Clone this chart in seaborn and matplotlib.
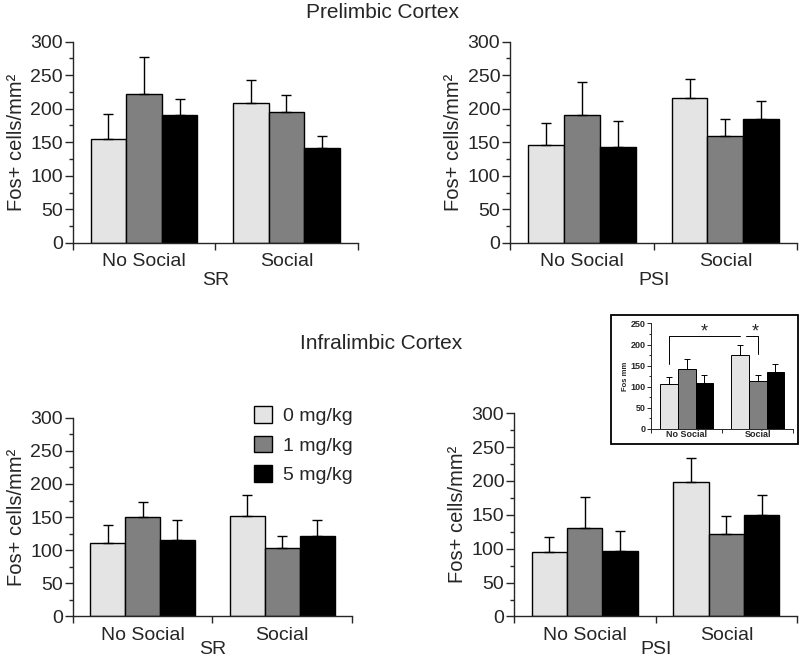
import numpy as np
import pandas as pd
import matplotlib
matplotlib.use("Agg")
import matplotlib.pyplot as plt
from matplotlib.patches import Patch, Rectangle
from matplotlib.ticker import MultipleLocator
import seaborn as sns

# data (means and upper SEM tips)
conditions = ["No Social", "Social"]
doses = ["0 mg/kg", "1 mg/kg", "5 mg/kg"]
colors = ["#e4e4e4", "#808080", "#000000"]

pl_sr_mean = [[155, 208], [222, 195], [191, 142]]
pl_sr_top = [[192, 243], [277, 220], [214, 159]]
pl_psi_mean = [[146, 216], [191, 159], [143, 184]]
pl_psi_top = [[179, 244], [240, 185], [181, 211]]
il_sr_mean = [[111, 152], [150, 103], [116, 122]]
il_sr_top = [[138, 183], [173, 121], [145, 145]]
il_psi_mean = [[95, 198], [130, 121], [97, 149]]
il_psi_top = [[117, 234], [177, 148], [126, 179]]
inset_mean = [[107, 176], [142, 114], [108, 136]]
inset_top = [[123, 200], [166, 129], [129, 154]]


def make_df(means):
    rows = []
    for d, dose in enumerate(doses):
        for c, cond in enumerate(conditions):
            rows.append({"cond": cond, "dose": dose, "value": means[d][c]})
    return pd.DataFrame(rows)


def draw_panel(ax, means, tops, xlabel, ymax=300, small=False, xpad=1):
    df = make_df(means)
    lw = 0.7 if small else 1.0
    sns.barplot(data=df, x="cond", y="value", hue="dose", order=conditions,
                hue_order=doses, palette=colors, edgecolor="black",
                linewidth=lw, width=0.75, errorbar=None, legend=False,
                saturation=1, ax=ax)
    # upper error bars only
    bar_groups = list(ax.containers)
    for d, cont in enumerate(bar_groups):
        xs = [b.get_x() + b.get_width() / 2 for b in cont]
        err = np.array(tops[d]) - np.array(means[d])
        ax.errorbar(xs, means[d], yerr=[np.zeros(len(err)), err], fmt="none",
                    ecolor="black", elinewidth=lw, capsize=2 if small else 3.5,
                    capthick=lw, zorder=1)
    ax.set_xlim(-0.5, 1.5)
    ax.set_ylim(0, ymax)
    ax.yaxis.set_major_locator(MultipleLocator(50))
    ax.yaxis.set_minor_locator(MultipleLocator(25))
    ax.set_xticks([-0.5, 0.5, 1.5])
    ax.set_xticklabels(["", "", ""])
    ax.set_xticks([0, 1], minor=True)
    fs = 6.5 if small else 14
    ax.set_xticklabels(conditions, minor=True, fontsize=fs,
                       fontweight="bold" if small else "normal")
    ax.tick_params(axis="x", which="minor", length=0, pad=1 if small else 7.5)
    ax.tick_params(axis="x", which="major", length=3 if small else 5,
                   width=lw)
    ax.tick_params(axis="y", which="major", length=3 if small else 6,
                   width=lw, labelsize=fs, pad=1)
    ax.tick_params(axis="y", which="minor", length=1.5 if small else 3,
                   width=lw)
    if small:
        for t in ax.get_yticklabels():
            t.set_fontweight("bold")
    for s in ["left", "bottom"]:
        ax.spines[s].set_linewidth(lw)
    sns.despine(ax=ax)
    ax.set_xlabel(xlabel, fontsize=14, labelpad=xpad)
    if small:
        ax.set_ylabel("Fos mm", fontsize=5.5, fontweight="bold", labelpad=1)
    else:
        ax.set_ylabel("Fos+ cells/mm²", fontsize=14.5, labelpad=3)


sns.set_style("ticks")
plt.rcParams["font.family"] = ["Liberation Sans", "DejaVu Sans"]

fig = plt.figure(figsize=(8, 6.6), dpi=100)
ax1 = fig.add_axes([0.091, 0.632, 0.356, 0.305])
ax2 = fig.add_axes([0.6375, 0.632, 0.359, 0.305])
ax3 = fig.add_axes([0.091, 0.066, 0.349, 0.301])
ax4 = fig.add_axes([0.6425, 0.066, 0.354, 0.308])

draw_panel(ax1, pl_sr_mean, pl_sr_top, "SR")
draw_panel(ax2, pl_psi_mean, pl_psi_top, "PSI")
draw_panel(ax3, il_sr_mean, il_sr_top, "SR", xpad=-2)
draw_panel(ax4, il_psi_mean, il_psi_top, "PSI", xpad=-2)

fig.text(0.478, 0.981, "Prelimbic Cortex", ha="center", va="center", fontsize=15)
fig.text(0.476, 0.479, "Infralimbic Cortex", ha="center", va="center", fontsize=15)

handles = [Patch(facecolor=c, edgecolor="black", linewidth=1.0) for c in colors]
ax3.legend(handles, doses, loc="upper left", bbox_to_anchor=(0.308, 0.396),
           bbox_transform=fig.transFigure, frameon=False, fontsize=14,
           handlelength=0.9, handleheight=0.9, labelspacing=0.55,
           handletextpad=0.6, borderaxespad=0)

# inset with significance brackets
fig.patches.append(Rectangle((0.764, 0.327), 0.234, 0.195, transform=fig.transFigure,
                             fill=False, edgecolor="black", linewidth=1.3))
ins = fig.add_axes([0.814, 0.35, 0.1775, 0.16])
draw_panel(ins, inset_mean, inset_top, "", ymax=250, small=True)
ins.set_xlabel("")
ins.set_ylim(0, 250)
br_y = 219
ins.plot([-0.25, -0.25, 0.75], [153, br_y, br_y], color="black", lw=0.7)
ins.plot([0.83, 1.0, 1.0], [br_y, br_y, 177], color="black", lw=0.7)
ins.text(0.25, 230, "*", ha="center", va="center", fontsize=13)
ins.text(0.96, 230, "*", ha="center", va="center", fontsize=13)

fig.savefig("out.png", dpi=100)
